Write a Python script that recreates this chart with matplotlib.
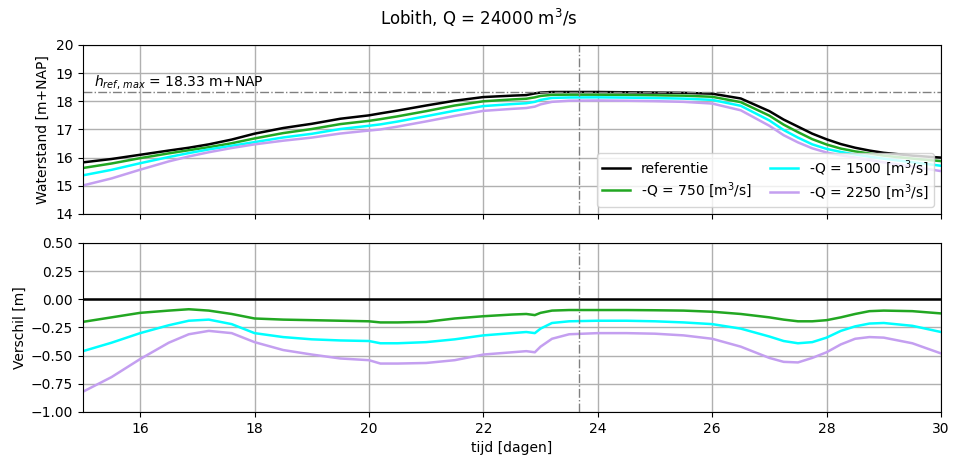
import numpy as np
import matplotlib
matplotlib.use("Agg")
import matplotlib.pyplot as plt

# tijd [dagen]
t = [15, 15.5, 16, 16.5, 16.85, 17.2, 17.6, 18, 18.5, 19, 19.5, 20, 20.2,
     20.5, 21, 21.5, 22, 22.5, 22.75, 22.9, 23.0, 23.2, 23.5, 24, 24.5, 25,
     25.5, 26, 26.5, 27, 27.25, 27.5, 27.75, 28, 28.25, 28.5, 28.75, 29,
     29.5, 30]

# waterstand referentie [m+NAP]
h_ref = [15.83, 15.95, 16.1, 16.25, 16.35, 16.47, 16.64, 16.85, 17.05, 17.2,
         17.38, 17.5, 17.57, 17.67, 17.85, 18.02, 18.15, 18.2, 18.22, 18.28,
         18.31, 18.33, 18.33, 18.33, 18.32, 18.31, 18.3, 18.27, 18.1, 17.65,
         17.35, 17.1, 16.85, 16.65, 16.48, 16.35, 16.25, 16.17, 16.07, 16.0]

# verschil t.o.v. referentie [m]
d_750 = [-0.20, -0.16, -0.12, -0.10, -0.088, -0.10, -0.13, -0.17, -0.18,
         -0.185, -0.19, -0.195, -0.205, -0.205, -0.20, -0.17, -0.15, -0.135,
         -0.13, -0.14, -0.12, -0.10, -0.095, -0.095, -0.095, -0.097, -0.10,
         -0.11, -0.13, -0.16, -0.18, -0.195, -0.195, -0.185, -0.16, -0.13,
         -0.105, -0.10, -0.105, -0.125]
d_1500 = [-0.46, -0.385, -0.30, -0.23, -0.19, -0.18, -0.22, -0.30, -0.335,
          -0.355, -0.365, -0.37, -0.39, -0.39, -0.38, -0.355, -0.32, -0.30,
          -0.29, -0.30, -0.26, -0.21, -0.195, -0.19, -0.19, -0.195, -0.205,
          -0.22, -0.26, -0.33, -0.37, -0.39, -0.38, -0.34, -0.28, -0.24,
          -0.215, -0.21, -0.235, -0.29]
d_2250 = [-0.82, -0.69, -0.53, -0.385, -0.31, -0.28, -0.30, -0.38, -0.45,
          -0.49, -0.525, -0.54, -0.57, -0.57, -0.565, -0.54, -0.49, -0.47,
          -0.46, -0.47, -0.42, -0.35, -0.31, -0.30, -0.30, -0.305, -0.32,
          -0.35, -0.42, -0.52, -0.555, -0.56, -0.52, -0.47, -0.40, -0.35,
          -0.335, -0.34, -0.39, -0.48]

h_max = 18.33
t_max = 23.67

labels = ["-Q = 750 [m$^3$/s]", "-Q = 1500 [m$^3$/s]", "-Q = 2250 [m$^3$/s]"]
colors = ["#22a722", "#00ffff", "#c49ff0"]
diffs = [d_750, d_1500, d_2250]

t = np.array(t)
h_ref = np.array(h_ref)

fig = plt.figure(figsize=(9.58, 4.59), dpi=100)
ax1 = fig.add_axes([0.0866, 0.534, 0.8956, 0.368])
ax2 = fig.add_axes([0.0866, 0.1024, 0.8956, 0.3682], sharex=ax1)

# bovenste paneel: waterstanden
ax1.plot(t, h_ref, color="black", lw=1.8, label="referentie")
for d, c, lab in zip(diffs, colors, labels):
    ax1.plot(t, h_ref + np.array(d), color=c, lw=1.8, label=lab)
ax1.axhline(h_max, color="gray", ls="-.", lw=1)
ax1.axvline(t_max, color="gray", ls="-.", lw=1)
ax1.text(15.2, 18.55, r"$h_{ref,\,max}$ = %.2f m+NAP" % h_max, fontsize=10)
ax1.set_ylim(14, 20)
ax1.set_yticks(np.arange(14, 21, 1))
ax1.set_ylabel("Waterstand [m+NAP]")
ax1.yaxis.set_label_coords(-0.039, 0.5)
ax1.grid(True, lw=1)
ax1.tick_params(labelbottom=False)
h, l = ax1.get_legend_handles_labels()
ax1.legend(h, l, loc="lower right", ncol=2, fontsize=10, labelspacing=0.3,
           borderpad=0.35, columnspacing=1.3)

# onderste paneel: verschillen
ax2.axhline(0, color="black", lw=1.8)
for d, c in zip(diffs, colors):
    ax2.plot(t, d, color=c, lw=1.8)
ax2.axvline(t_max, color="gray", ls="-.", lw=1)
ax2.set_ylim(-1.0, 0.5)
ax2.set_yticks(np.arange(-1.0, 0.51, 0.25))
ax2.set_ylabel("Verschil [m]")
ax2.yaxis.set_label_coords(-0.065, 0.5)
ax2.set_xlabel("tijd [dagen]")
ax2.set_xlim(15, 30)
ax2.grid(True, lw=1)

fig.suptitle("Lobith, Q = 24000 m$^3$/s", y=0.985, fontsize=12)
fig.savefig("out.png", dpi=100)
